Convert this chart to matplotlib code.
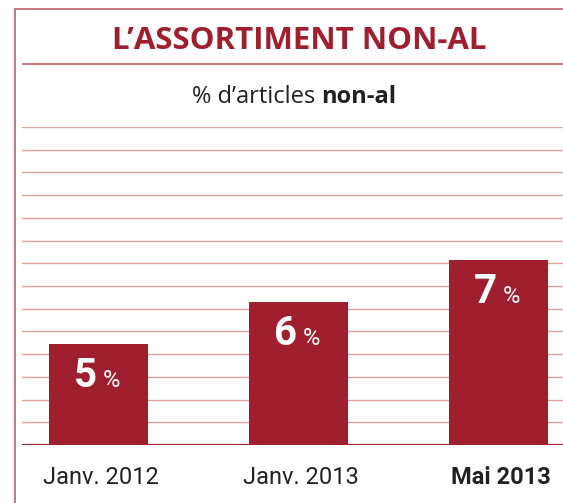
import matplotlib
matplotlib.use("Agg")
import matplotlib.pyplot as plt
import numpy as np

categories = ["Janv. 2012", "Janv. 2013", "Mai 2013"]
values = [5, 6, 7]
value_labels = ["5", "6", "7"]
title = "L\u2019ASSORTIMENT NON-AL"

W, H = 563, 503
DPI = 100
red = "#a01f2e"
grid_c = "#dea49c"
frame_c = "#cc6a74"

cond = "Roboto"
main = "Open Sans"

fig = plt.figure(figsize=(W / DPI, H / DPI), dpi=DPI)

def fx(px):
    return px / W

def fy(py):
    return 1 - py / H

ax = fig.add_axes([fx(22), fy(445), 1 - fx(22), fy(127) - fy(445)])
ylo, yhi = 2.6, 10.17
ax.set_ylim(ylo, yhi)
ax.set_xlim(-0.3825, 2.3225)
x = np.arange(len(categories))
ax.bar(x, values, width=0.495, bottom=0, color=red, zorder=3)
for yy in np.linspace(ylo, yhi, 15)[1:]:
    ax.axhline(yy, color=grid_c, lw=1.0, zorder=1)
ax.axhline(ylo, color=red, lw=1.6, zorder=4)
for s in ax.spines.values():
    s.set_visible(False)
ax.set_xticks([])
ax.set_yticks([])

for xi, v, lab in zip(x, values, value_labels):
    ax.annotate(lab, (xi, v), xytext=(-2, -43), textcoords="offset pixels",
                ha="right", va="baseline", color="white", fontsize=29,
                fontweight="bold", family=cond, zorder=5)
    ax.annotate("%", (xi, v), xytext=(4, -43), textcoords="offset pixels",
                ha="left", va="baseline", color="white", fontsize=17,
                family=cond, zorder=5)

for i, (xi, c) in enumerate(zip(x, categories)):
    ax.annotate(c, (xi, ylo), xytext=(2, -39), textcoords="offset pixels",
                ha="center", va="baseline", color="#222222", fontsize=17,
                fontweight="bold" if i == len(categories) - 1 else "normal",
                family=cond, annotation_clip=False)

# frame
fig.add_artist(plt.Line2D([fx(15), fx(15)], [fy(9), 0], color=frame_c, lw=1.3))
fig.add_artist(plt.Line2D([fx(15), 1], [fy(9), fy(9)], color=frame_c, lw=1.3))
# title rule
fig.add_artist(plt.Line2D([fx(23), 1], [fy(64), fy(64)], color="#c85a66", lw=1.2))

fig.text(fx(299), fy(49), title, ha="center", va="baseline", color=red,
         fontsize=22.5, fontweight="bold", family=main)
# subtitle in two parts
t1 = fig.text(fx(192), fy(103), "% d\u2019articles ", ha="left", va="baseline",
              color="#222222", fontsize=17, family=main)
fig.canvas.draw()
bb = t1.get_window_extent()
fig.text(bb.x1 / W, fy(103), "non-al", ha="left", va="baseline",
         color="#222222", fontsize=17, fontweight="bold", family=main)

fig.savefig("out.png", dpi=DPI)
